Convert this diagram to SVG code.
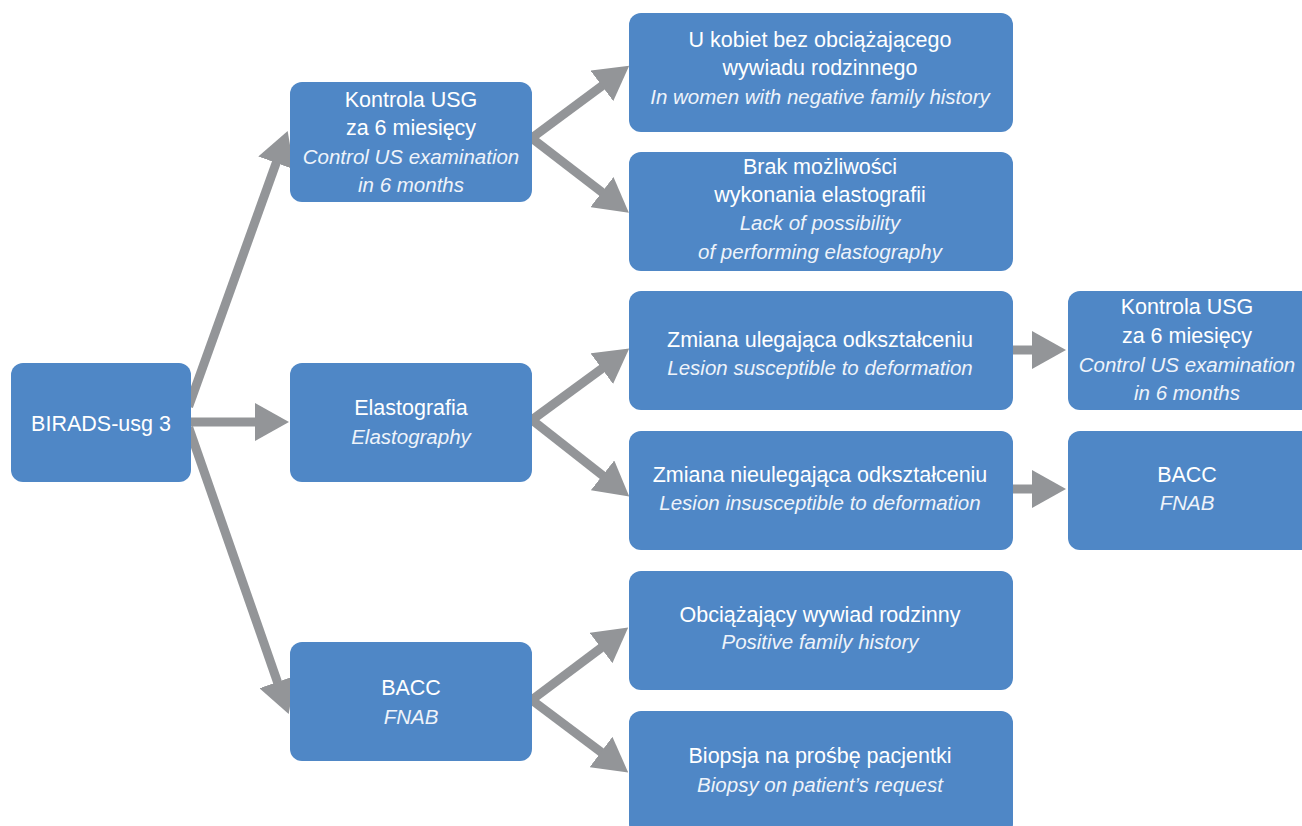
<svg xmlns="http://www.w3.org/2000/svg" width="1302" height="826" viewBox="0 0 1302 826">
<style>
.box{fill:#4f87c6;}
.c{stroke:#939598;stroke-width:9;fill:none;marker-end:url(#ah);}
text{font-family:"Liberation Sans",Arial,sans-serif;font-size:21.5px;fill:#ffffff;text-anchor:middle;}
.i{font-style:italic;font-size:20.5px;fill:#eef3fa;}
</style>
<defs>
<marker id="ah" markerUnits="userSpaceOnUse" viewBox="0 -19 34 38" refX="1" refY="0" markerWidth="34" markerHeight="38" orient="auto">
<path d="M0,-19 L34,0 L0,19 z" fill="#939598"/>
</marker>
</defs>
<rect width="1302" height="826" fill="#ffffff"/>
<g id="connectors">
<line class="c" x1="188.6" y1="406.4" x2="276.5" y2="162"/>
<line class="c" x1="185" y1="422" x2="256" y2="422"/>
<line class="c" x1="188.7" y1="427.6" x2="277.8" y2="682.9"/>
<line class="c" x1="525" y1="143" x2="602.7" y2="85.3"/>
<line class="c" x1="525" y1="133" x2="602.7" y2="192.7"/>
<line class="c" x1="525" y1="425" x2="602.6" y2="368.1"/>
<line class="c" x1="525" y1="414.5" x2="603.3" y2="476"/>
<line class="c" x1="525" y1="705" x2="601.8" y2="647.4"/>
<line class="c" x1="525" y1="695" x2="601.8" y2="752.6"/>
<line class="c" x1="1005" y1="350" x2="1033" y2="350"/>
<line class="c" x1="1005" y1="489" x2="1033" y2="489"/>
</g>
<g id="n-birads">
<rect class="box" x="11" y="363" width="180" height="119" rx="12"/>
<text x="101" y="431">BIRADS-usg 3</text>
</g>
<g id="n-kontrola1">
<rect class="box" x="290" y="82" width="242" height="120" rx="12"/>
<text x="411" y="106.5">Kontrola USG</text>
<text x="411" y="135">za 6 miesięcy</text>
<text class="i" x="411" y="163.5">Control US examination</text>
<text class="i" x="411" y="192">in 6 months</text>
</g>
<g id="n-elasto">
<rect class="box" x="290" y="363" width="242" height="119" rx="12"/>
<text x="411" y="415">Elastografia</text>
<text class="i" x="411" y="444">Elastography</text>
</g>
<g id="n-bacc1">
<rect class="box" x="290" y="642" width="242" height="119" rx="12"/>
<text x="411" y="695">BACC</text>
<text class="i" x="411" y="724">FNAB</text>
</g>
<g id="n-ukobiet">
<rect class="box" x="629" y="13" width="384" height="119" rx="12"/>
<text x="820" y="47">U kobiet bez obciążającego</text>
<text x="820" y="75">wywiadu rodzinnego</text>
<text class="i" x="820" y="103.5">In women with negative family history</text>
</g>
<g id="n-brak">
<rect class="box" x="629" y="152" width="384" height="119" rx="12"/>
<text x="820" y="173.5">Brak możliwości</text>
<text x="820" y="202">wykonania elastografii</text>
<text class="i" x="820" y="230">Lack of possibility</text>
<text class="i" x="820" y="258.5">of performing elastography</text>
</g>
<g id="n-zmiana1">
<rect class="box" x="629" y="291" width="384" height="119" rx="12"/>
<text x="820" y="347">Zmiana ulegająca odkształceniu</text>
<text class="i" x="820" y="375">Lesion susceptible to deformation</text>
</g>
<g id="n-zmiana2">
<rect class="box" x="629" y="431" width="384" height="119" rx="12"/>
<text x="820" y="482">Zmiana nieulegająca odkształceniu</text>
<text class="i" x="820" y="510">Lesion insusceptible to deformation</text>
</g>
<g id="n-obc">
<rect class="box" x="629" y="571" width="384" height="119" rx="12"/>
<text x="820" y="621.5">Obciążający wywiad rodzinny</text>
<text class="i" x="820" y="649">Positive family history</text>
</g>
<g id="n-biopsja">
<rect class="box" x="629" y="711" width="384" height="125" rx="12"/>
<text x="820" y="763">Biopsja na prośbę pacjentki</text>
<text class="i" x="820" y="792">Biopsy on patient’s request</text>
</g>
<g id="n-kontrola2">
<rect class="box" x="1068" y="291" width="250" height="119" rx="12"/>
<text x="1187" y="313.5">Kontrola USG</text>
<text x="1187" y="343">za 6 miesięcy</text>
<text class="i" x="1187" y="372">Control US examination</text>
<text class="i" x="1187" y="400">in 6 months</text>
</g>
<g id="n-bacc2">
<rect class="box" x="1068" y="431" width="250" height="119" rx="12"/>
<text x="1187" y="482">BACC</text>
<text class="i" x="1187" y="510">FNAB</text>
</g>
</svg>
